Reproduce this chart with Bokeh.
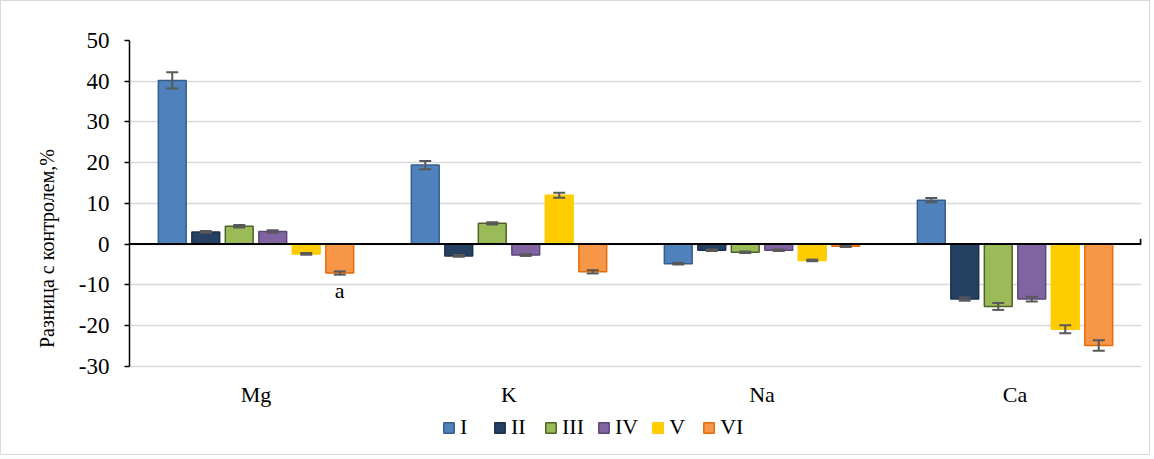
from bokeh.plotting import figure
from bokeh.models import (ColumnDataSource, FactorRange, Range1d, Span, Legend, LegendItem,
                          FixedTicker, CustomJSTickFormatter)
from bokeh.transform import dodge
from bokeh.core.properties import value
from bokeh.embed import file_html
from bokeh.resources import INLINE

elements = ["Mg", "K", "Na", "Ca"]
series = ["I", "II", "III", "IV", "V", "VI"]
yticks = [-30, -20, -10, 0, 10, 20, 30, 40, 50]

s_I = [40.2, 19.4, -4.8, 10.8]
s_II = [3.0, -2.9, -1.5, -13.5]
s_III = [4.4, 5.1, -2.0, -15.3]
s_IV = [3.1, -2.7, -1.5, -13.5]
s_V = [-2.4, 12.0, -4.0, -20.9]
s_VI = [-7.1, -6.8, -0.5, -24.9]

e_I = [2.0, 1.0, 0.2, 0.5]
e_II = [0.2, 0.2, 0.2, 0.4]
e_III = [0.3, 0.3, 0.2, 0.85]
e_IV = [0.3, 0.2, 0.2, 0.6]
e_V = [0.2, 0.6, 0.2, 1.0]
e_VI = [0.4, 0.4, 0.2, 1.3]

fills = ["#4f81bd", "#254061", "#9bbb59", "#8064a2", "#ffcc00", "#f79646"]
lines = ["#385d8a", "#1c3050", "#4f6228", "#5c4776", "#ffcc00", "#e46c0a"]

values_list = [s_I, s_II, s_III, s_IV, s_V, s_VI]
errs_list = [e_I, e_II, e_III, e_IV, e_V, e_VI]

FONT = "Liberation Serif"

# frame extends below the value axis to hold the category labels and legend
p = figure(width=1150, height=455, x_range=FactorRange(*elements, range_padding=0),
           y_range=Range1d(-52.15, 50), output_backend="svg", toolbar_location=None,
           min_border_left=128, min_border_right=10, min_border_top=39, min_border_bottom=0)
p.outline_line_color = None
p.border_fill_color = "white"
p.background_fill_color = "white"
p.styles = {"border": "1px solid #d9d9d9"}

spacing = 0.1324
width = 0.11
offsets = [(i - 2.5) * spacing for i in range(6)]

items = []
for i, name in enumerate(series):
    vals = values_list[i]
    errs = errs_list[i]
    src = ColumnDataSource(dict(
        x=elements, top=vals,
        upper=[v + e for v, e in zip(vals, errs)],
        lower=[v - e for v, e in zip(vals, errs)],
    ))
    xs = dodge("x", offsets[i], range=p.x_range)
    r = p.vbar(x=xs, top="top", bottom=0, width=width, source=src,
               fill_color=fills[i], line_color=lines[i], line_width=1.5)
    p.segment(x0=xs, y0="lower", x1=xs, y1="upper", source=src,
              line_color="#595959", line_width=2)
    p.scatter(x=xs, y="upper", marker="dash", size=12, source=src,
              line_color="#595959", line_width=2)
    p.scatter(x=xs, y="lower", marker="dash", size=12, source=src,
              line_color="#595959", line_width=2)
    items.append(LegendItem(label=name, renderers=[r]))

# significance mark
asrc = ColumnDataSource(dict(x=["Mg"], y=[-11.3], t=["a"]))
p.text(x=dodge("x", offsets[5], range=p.x_range), y="y", text="t", source=asrc,
       text_font=value(FONT), text_font_size="22px", text_align="center",
       text_baseline="middle", text_color="black")

# category labels under the value axis
csrc = ColumnDataSource(dict(x=elements, y=[-36.9] * len(elements), t=elements))
p.text(x="x", y="y", text="t", source=csrc,
       text_font=value(FONT), text_font_size="22px", text_align="center",
       text_baseline="middle", text_color="black")

# zero (category) axis line and its end tick
p.add_layout(Span(location=0, dimension="width", line_color="black", line_width=2))
esrc = ColumnDataSource(dict(x=["Ca"], y0=[0], y1=[1.3]))
p.segment(x0=dodge("x", 0.497, range=p.x_range), x1=dodge("x", 0.497, range=p.x_range),
          y0="y0", y1="y1", source=esrc, line_color="black", line_width=2)

p.xaxis.visible = False
p.xgrid.grid_line_color = None
p.ygrid.grid_line_color = "#d9d9d9"
p.ygrid.grid_line_width = 1.5
p.yaxis.ticker = FixedTicker(ticks=yticks)
p.yaxis.bounds = (-30, 50)
p.yaxis.formatter = CustomJSTickFormatter(code="return tick.toString();")
p.yaxis.axis_line_color = "black"
p.yaxis.axis_line_width = 1.5
p.yaxis.major_tick_line_color = "black"
p.yaxis.major_tick_line_width = 1.5
p.yaxis.major_tick_out = 5
p.yaxis.major_tick_in = 0
p.yaxis.minor_tick_line_color = None
p.yaxis.major_label_text_font = FONT
p.yaxis.major_label_text_font_size = "23px"
p.yaxis.major_label_text_color = "black"
p.yaxis.major_label_standoff = 15
p.yaxis.axis_label = "Разница с контролем,%"
p.yaxis.axis_label_text_font = FONT
p.yaxis.axis_label_text_font_size = "20px"
p.yaxis.axis_label_text_font_style = "normal"
p.yaxis.axis_label_text_color = "black"
p.yaxis.axis_label_standoff = 18

legend = Legend(items=items, orientation="horizontal", location=(313, 16),
                label_text_font=FONT, label_text_font_size="22px",
                label_text_color="black", glyph_width=13, glyph_height=13,
                label_standoff=5, spacing=13, border_line_color=None,
                background_fill_alpha=0, padding=4, margin=0)
p.add_layout(legend, "center")

open("out.html", "w").write(file_html(p, INLINE))
